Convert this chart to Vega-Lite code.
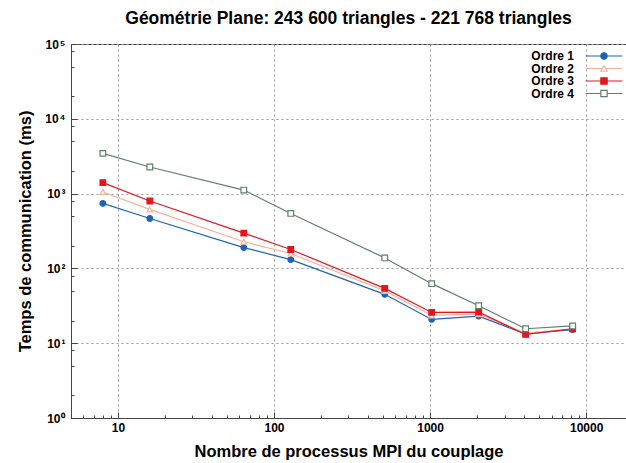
{
  "$schema": "https://vega.github.io/schema/vega-lite/v6.json",
  "width": 555,
  "height": 374,
  "autosize": "none",
  "padding": {"left": 71, "top": 44, "right": 0, "bottom": 45},
  "background": "white",
  "config": {
    "font": "Liberation Sans",
    "view": {"stroke": "#444", "strokeWidth": 1},
    "axis": {
      "labelFont": "Liberation Sans",
      "labelFontWeight": "bold",
      "labelFontSize": 12,
      "labelColor": "#000",
      "titleFont": "Liberation Sans",
      "titleFontWeight": "bold",
      "titleFontSize": 16.5,
      "titleColor": "#000",
      "domainColor": "#444",
      "tickColor": "#444",
      "gridColor": "#999",
      "gridDash": [2, 3],
      "labelFlush": false,
      "labelOverlap": false
    }
  },
  "title": {
    "text": "Géométrie Plane: 243 600 triangles - 221 768 triangles",
    "font": "Liberation Sans",
    "fontSize": 17.5,
    "fontWeight": "bold",
    "color": "#000",
    "anchor": "middle",
    "frame": "group",
    "offset": 11
  },
  "data": {
    "values": [
      {"n": 8, "ordre": "Ordre 1", "t": 740},
      {"n": 16, "ordre": "Ordre 1", "t": 465},
      {"n": 64, "ordre": "Ordre 1", "t": 190},
      {"n": 128, "ordre": "Ordre 1", "t": 131},
      {"n": 512, "ordre": "Ordre 1", "t": 45},
      {"n": 1024, "ordre": "Ordre 1", "t": 20.8},
      {"n": 2048, "ordre": "Ordre 1", "t": 23},
      {"n": 4096, "ordre": "Ordre 1", "t": 13.3},
      {"n": 8192, "ordre": "Ordre 1", "t": 15.2},
      {"n": 8, "ordre": "Ordre 2", "t": 1050},
      {"n": 16, "ordre": "Ordre 2", "t": 615},
      {"n": 64, "ordre": "Ordre 2", "t": 227},
      {"n": 128, "ordre": "Ordre 2", "t": 158},
      {"n": 512, "ordre": "Ordre 2", "t": 50},
      {"n": 1024, "ordre": "Ordre 2", "t": 23.5},
      {"n": 2048, "ordre": "Ordre 2", "t": 24.5},
      {"n": 4096, "ordre": "Ordre 2", "t": 13.6},
      {"n": 8192, "ordre": "Ordre 2", "t": 15.6},
      {"n": 8, "ordre": "Ordre 3", "t": 1400},
      {"n": 16, "ordre": "Ordre 3", "t": 795},
      {"n": 64, "ordre": "Ordre 3", "t": 296},
      {"n": 128, "ordre": "Ordre 3", "t": 179},
      {"n": 512, "ordre": "Ordre 3", "t": 54},
      {"n": 1024, "ordre": "Ordre 3", "t": 25.8},
      {"n": 2048, "ordre": "Ordre 3", "t": 26},
      {"n": 4096, "ordre": "Ordre 3", "t": 13.1},
      {"n": 8192, "ordre": "Ordre 3", "t": 15.6},
      {"n": 8, "ordre": "Ordre 4", "t": 3450},
      {"n": 16, "ordre": "Ordre 4", "t": 2270},
      {"n": 64, "ordre": "Ordre 4", "t": 1115},
      {"n": 128, "ordre": "Ordre 4", "t": 543},
      {"n": 512, "ordre": "Ordre 4", "t": 138},
      {"n": 1024, "ordre": "Ordre 4", "t": 62.5},
      {"n": 2048, "ordre": "Ordre 4", "t": 31.7},
      {"n": 4096, "ordre": "Ordre 4", "t": 15.6},
      {"n": 8192, "ordre": "Ordre 4", "t": 17}
    ]
  },
  "layer": [
    {
      "mark": {"type": "line", "strokeWidth": 1.2},
      "encoding": {
        "x": {
          "field": "n",
          "type": "quantitative",
          "scale": {"type": "log", "domain": [5, 18000], "nice": false},
          "axis": {
            "title": "Nombre de processus MPI du couplage",
            "values": [6, 7, 8, 9, 10, 20, 30, 40, 50, 60, 70, 80, 90, 100, 200, 300, 400, 500, 600, 700, 800, 900, 1000, 2000, 3000, 4000, 5000, 6000, 7000, 8000, 9000, 10000],
            "labelExpr": "(datum.value == 10 || datum.value == 100 || datum.value == 1000 || datum.value == 10000) ? format(datum.value, 'd') : ''",
            "grid": true,
            "gridOpacity": {"condition": {"test": "datum.value == 10 || datum.value == 100 || datum.value == 1000 || datum.value == 10000", "value": 1}, "value": 0},
            "tickSize": {"condition": {"test": "datum.value == 10 || datum.value == 100 || datum.value == 1000 || datum.value == 10000", "value": -6}, "value": -3},
            "labelPadding": 10,
            "titlePadding": 7
          }
        },
        "y": {
          "field": "t",
          "type": "quantitative",
          "scale": {"type": "log", "domain": [1, 100000], "nice": false},
          "axis": {
            "title": "Temps de communication (ms)",
            "values": [1, 2, 5, 8, 10, 20, 50, 80, 100, 200, 500, 800, 1000, 2000, 5000, 8000, 10000, 20000, 50000, 80000, 100000],
            "labelExpr": "(datum.value == 1 || datum.value == 10 || datum.value == 100 || datum.value == 1000 || datum.value == 10000 || datum.value == 100000) ? '10\u200a' + ['⁰','¹','²','³','⁴','⁵'][round(log(datum.value) / LN10)] : ''",
            "grid": true,
            "gridOpacity": {"condition": {"test": "datum.value == 1 || datum.value == 10 || datum.value == 100 || datum.value == 1000 || datum.value == 10000 || datum.value == 100000", "value": 1}, "value": 0},
            "tickSize": {"condition": {"test": "datum.value == 1 || datum.value == 10 || datum.value == 100 || datum.value == 1000 || datum.value == 10000 || datum.value == 100000", "value": -6}, "value": -3},
            "labelPadding": 12,
            "titlePadding": 11
          }
        },
        "color": {
          "field": "ordre",
          "type": "nominal",
          "scale": {"range": ["#1f63b8", "#f7b29c", "#e3161d", "#5f7f6e"]},
          "legend": {
            "title": null,
            "orient": "none",
            "legendX": 527,
            "legendY": 6,
            "padding": 0,
            "symbolType": "M-5.2,0H5.2",
            "symbolSize": 50,
            "symbolStrokeWidth": 1.2,
            "labelAlign": "right",
            "labelOffset": -36,
            "labelFont": "Liberation Sans",
            "labelFontWeight": "bold",
            "labelFontSize": 12,
            "labelColor": "#000",
            "rowPadding": 0.5
          }
        }
      }
    },
    {
      "mark": {"type": "point", "size": 32, "strokeWidth": 1.2, "opacity": 1},
      "encoding": {
        "x": {"field": "n", "type": "quantitative"},
        "y": {"field": "t", "type": "quantitative"},
        "stroke": {
          "field": "ordre",
          "type": "nominal",
          "scale": {"domain": ["Ordre 1", "Ordre 2", "Ordre 3", "Ordre 4"], "range": ["#1f63b8", "#f7b29c", "#e3161d", "#5f7f6e"]},
          "legend": {
            "title": null,
            "orient": "none",
            "legendX": 527,
            "legendY": 6,
            "padding": 0,
            "symbolSize": 40,
            "symbolStrokeWidth": 1.2,
            "labelAlign": "right",
            "labelOffset": -36,
            "labelFont": "Liberation Sans",
            "labelFontWeight": "bold",
            "labelFontSize": 12,
            "labelOpacity": 0,
            "rowPadding": 0.5
          }
        },
        "fill": {
          "field": "ordre",
          "type": "nominal",
          "scale": {"domain": ["Ordre 1", "Ordre 2", "Ordre 3", "Ordre 4"], "range": ["#1f63b8", "#ffffff", "#e3161d", "#ffffff"]}
        },
        "shape": {
          "field": "ordre",
          "type": "nominal",
          "scale": {"domain": ["Ordre 1", "Ordre 2", "Ordre 3", "Ordre 4"], "range": ["circle", "triangle-up", "square", "square"]}
        }
      }
    }
  ]
}
